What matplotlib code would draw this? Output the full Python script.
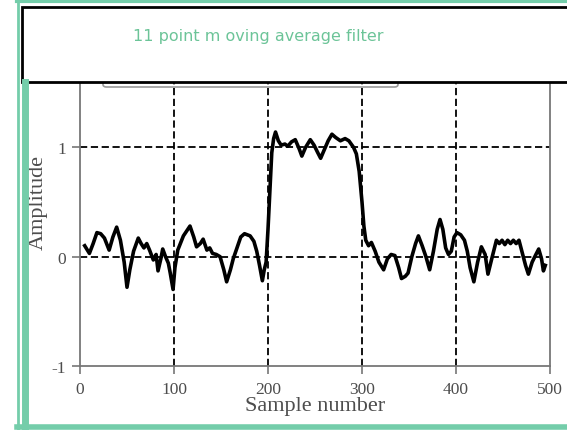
#!/usr/bin/env python3
"""
11 point moving average filter output: noisy rectangular pulse, smoothed.
"""
import matplotlib
matplotlib.use("Agg")
import matplotlib.pyplot as plt
from matplotlib.patches import Rectangle, FancyBboxPatch
from matplotlib.lines import Line2D

# values
samples = [5, 10, 14, 18, 22, 26, 31, 35, 39, 43, 47, 50, 53, 57, 62, 65, 68, 71, 74, 78,
           81, 83, 86, 88, 91, 94, 96, 99, 101, 104, 110, 117, 121, 124, 128, 131, 135, 138,
           141, 145, 149, 153, 156, 160, 163, 167, 171, 175, 181, 185, 188, 191, 194, 196,
           198, 200, 202, 204, 206, 208, 211, 214, 218, 221, 225, 229, 233, 236, 240, 245,
           249, 253, 256, 260, 264, 268, 272, 277, 282, 286, 291, 294, 297, 300, 302, 304,
           307, 310, 314, 318, 323, 327, 331, 335, 339, 342, 346, 349, 353, 357, 360, 364,
           368, 372, 376, 380, 383, 386, 389, 392, 395, 398, 401, 405, 409, 412, 415, 419,
           423, 427, 431, 434, 438, 443, 446, 449, 452, 455, 458, 461, 464, 467, 471, 474,
           477, 481, 485, 488, 491, 493, 495]
amplitude = [0.10, 0.03, 0.12, 0.22, 0.21, 0.17, 0.06, 0.18, 0.27, 0.15, -0.05, -0.28, -0.12,
             0.05, 0.17, 0.12, 0.08, 0.12, 0.06, -0.03, 0.02, -0.13, -0.02, 0.07, 0.00, -0.06,
             -0.15, -0.30, -0.10, 0.06, 0.19, 0.28, 0.18, 0.09, 0.12, 0.16, 0.06, 0.08, 0.03,
             0.02, 0.00, -0.12, -0.23, -0.12, -0.02, 0.08, 0.18, 0.21, 0.19, 0.14, 0.05, -0.08,
             -0.22, -0.12, -0.05, 0.25, 0.60, 0.95, 1.08, 1.14, 1.06, 1.02, 1.03, 1.01, 1.05,
             1.07, 0.99, 0.92, 1.00, 1.07, 1.02, 0.95, 0.90, 0.98, 1.06, 1.12, 1.09, 1.06,
             1.08, 1.06, 1.00, 0.94, 0.78, 0.50, 0.28, 0.15, 0.10, 0.13, 0.05, -0.05, -0.12,
             -0.02, 0.02, 0.01, -0.10, -0.20, -0.18, -0.15, 0.00, 0.12, 0.19, 0.10, 0.00,
             -0.12, 0.05, 0.25, 0.34, 0.25, 0.08, 0.02, 0.05, 0.18, 0.22, 0.20, 0.15, 0.05,
             -0.10, -0.23, -0.05, 0.09, 0.02, -0.16, -0.02, 0.15, 0.12, 0.15, 0.11, 0.15,
             0.12, 0.15, 0.12, 0.15, 0.02, -0.08, -0.16, -0.05, 0.02, 0.07, -0.02, -0.13, -0.08]

xticks = [0, 100, 200, 300, 400, 500]
yticks = [-1, 0, 1]
title = "11 point m oving average filter"

GREEN = "#74cdaa"
TITLE_GREEN = "#6cc498"
GRAY = "#777777"
TEXT_GRAY = "#4d4d4d"

W, H = 567, 431
fig = plt.figure(figsize=(W / 100, H / 100), dpi=100)

ax = fig.add_axes([80 / W, 64 / H, 470 / W, 328 / H])
ax.plot(samples, amplitude, color="black", lw=2.6, solid_joinstyle="round", zorder=3)
ax.set_xlim(0, 500)
ax.set_ylim(-1, 2)

# dashed grid at the inner ticks only
for xv in xticks[1:-1]:
    ax.axvline(xv, color="black", lw=1.3, linestyle=(0, (4, 2)), zorder=1)
for yv in [0, 1, 2]:
    ax.axhline(yv, color="black", lw=1.3, linestyle=(0, (4, 2)), zorder=1)

ax.set_xticks(xticks)
ax.set_yticks(yticks)
serif = ["Liberation Serif", "DejaVu Serif"]
ax.set_xticklabels([str(v) for v in xticks], family=serif, fontsize=12.5, color=TEXT_GRAY)
ax.set_yticklabels([str(v) for v in yticks], family=serif, fontsize=12.5, color=TEXT_GRAY)
ax.tick_params(axis="both", direction="out", length=6, width=1.2, color=GRAY)
ax.tick_params(axis="x", pad=5)
ax.tick_params(axis="y", pad=4)
for side in ["left", "bottom", "right"]:
    ax.spines[side].set_color(GRAY)
    ax.spines[side].set_linewidth(1.3)
ax.spines["top"].set_visible(False)

ax.set_xlabel("Sample number", family=serif, fontsize=16, color=TEXT_GRAY, labelpad=-1)
ax.set_ylabel("Amplitude", family=serif, fontsize=16, color=TEXT_GRAY, labelpad=3)

# partly hidden rounded box under the title bar
fig.patches.append(FancyBboxPatch((103 / W, (H - 88) / H), 295 / W, 30 / H,
                                  boxstyle="round,pad=0,rounding_size=0.006",
                                  transform=fig.transFigure, fill=False,
                                  edgecolor="#999999", lw=1.2, zorder=4))

# title bar
fig.patches.append(Rectangle((22 / W, (H - 83) / H), 560 / W, 75 / H,
                             transform=fig.transFigure, facecolor="white",
                             edgecolor="black", lw=2.0, zorder=5))
fig.text(258 / W, (H - 37) / H, title, ha="center", va="center",
         fontsize=11.5, color=TITLE_GREEN, zorder=6)

# green frame
frame = [
    ((18 / W, 18 / W), (0, 1), 2.0),
    ((25 / W, 25 / W), (0, (H - 83) / H), 5.0),
    ((17 / W, 1), (1 - 1.5 / H, 1 - 1.5 / H), 3.0),
    ((17 / W, 1), (3 / H, 3 / H), 4.0),
]
for xs, ys, lw in frame:
    fig.add_artist(Line2D(xs, ys, transform=fig.transFigure, color=GREEN, lw=lw, zorder=7))

fig.savefig("out.png", dpi=100)
